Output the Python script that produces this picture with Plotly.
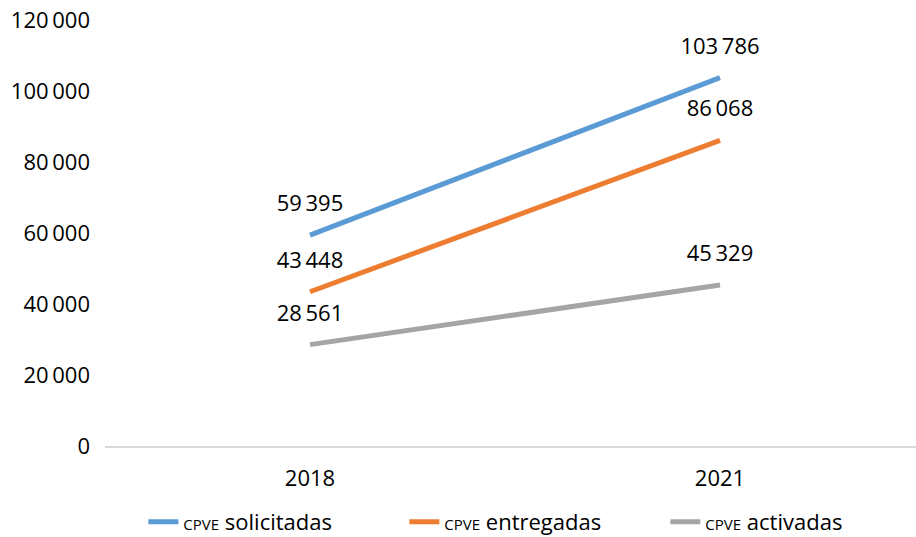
import plotly.graph_objects as go

years = ["2018", "2021"]
solicitadas = [59395, 103786]
entregadas = [43448, 86068]
activadas = [28561, 45329]
series_names = ["solicitadas", "entregadas", "activadas"]
colors = ["#5B9BD5", "#ED7D31", "#A5A5A5"]
y_ticks = [0, 20000, 40000, 60000, 80000, 100000, 120000]

FONT = "Open Sans"
TS = "\u2009"

def fmt(v):
    return f"{v:,}".replace(",", TS)

fig = go.Figure()
all_series = [solicitadas, entregadas, activadas]
for name, vals, col in zip(series_names, all_series, colors):
    fig.add_trace(go.Scatter(
        x=years, y=vals, mode="lines",
        name=f"<span style='font-size:15px'>CPVE</span> {name}",
        line=dict(color=col, width=5),
    ))
for vals in all_series:
    fig.add_trace(go.Scatter(
        x=years, y=vals, mode="markers+text", showlegend=False, hoverinfo="skip",
        marker=dict(size=28, opacity=0),
        text=[fmt(v) for v in vals], textposition="top center",
        textfont=dict(family=FONT, size=22, color="#000000"),
        cliponaxis=False,
    ))

fig.update_layout(
    width=916, height=537,
    margin=dict(l=105, r=0, t=20, b=91, autoexpand=False),
    paper_bgcolor="white", plot_bgcolor="white",
    font=dict(family=FONT, size=22, color="#000000"),
    separators="." + TS,
    showlegend=True,
    legend=dict(orientation="h", xref="container", yref="container",
                x=0.1565, xanchor="left", y=0.028, yanchor="middle",
                font=dict(size=22), entrywidth=216, entrywidthmode="pixels",
                tracegroupgap=0, bgcolor="rgba(0,0,0,0)"),
    xaxis=dict(type="category", range=[-0.5, 1.478], showgrid=False,
               showline=True, linecolor="#D9D9D9", linewidth=2,
               ticks="", ticklabelstandoff=12, tickfont=dict(size=22)),
    yaxis=dict(range=[0, 120000], tickvals=y_ticks, tickformat=",d",
               showgrid=False, zeroline=False, showline=False,
               ticklabeloverflow="allow",
               ticklabelstandoff=14, tickfont=dict(size=22)),
)

fig.write_html("out.html", config={"displayModeBar": False},
               post_script="document.body.style.margin='0';document.body.style.overflow='hidden';")
